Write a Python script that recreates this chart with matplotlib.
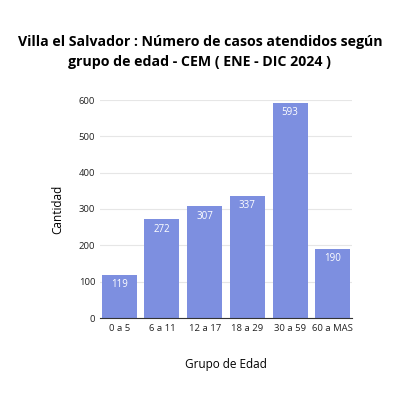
import matplotlib.pyplot as plt

plt.rcParams['font.family'] = ['Open Sans', 'DejaVu Sans']

grupos = ['0 a 5', '6 a 11', '12 a 17', '18 a 29', '30 a 59', '60 a MAS']
casos = [119, 272, 307, 337, 593, 190]

fig = plt.figure(figsize=(4, 4), dpi=100)
ax = fig.add_axes([0.25, 0.205, 0.63, 0.545])

bars = ax.bar(grupos, casos, width=0.82, color='#7d8fe0')
for b, v in zip(bars, casos):
    ax.text(b.get_x() + b.get_width() / 2, v - 12, str(v), ha='center', va='top',
            color='white', fontsize=7)

ax.set_xlim(-0.45, 5.45)
ax.set_ylim(0, 600)
ax.set_yticks(range(0, 601, 100))
ax.grid(axis='y', color='#e6e6e6', linewidth=0.8)
ax.set_axisbelow(True)
for s in ['top', 'right', 'left']:
    ax.spines[s].set_visible(False)
ax.spines['bottom'].set_color('#333333')
ax.tick_params(axis='both', labelsize=6.8, length=0, colors='#222222')
ax.tick_params(axis='x', pad=4)
ax.set_ylabel('Cantidad', fontsize=8.5, labelpad=10)
ax.set_xlabel('Grupo de Edad', fontsize=8.5, labelpad=18)

fig.text(0.5, 0.87, 'Villa el Salvador : Número de casos atendidos según\ngrupo de edad - CEM ( ENE - DIC 2024 )',
         ha='center', va='center', fontsize=10.2, fontweight='bold', linespacing=1.5)

fig.savefig('out.png', dpi=100, facecolor='white')
